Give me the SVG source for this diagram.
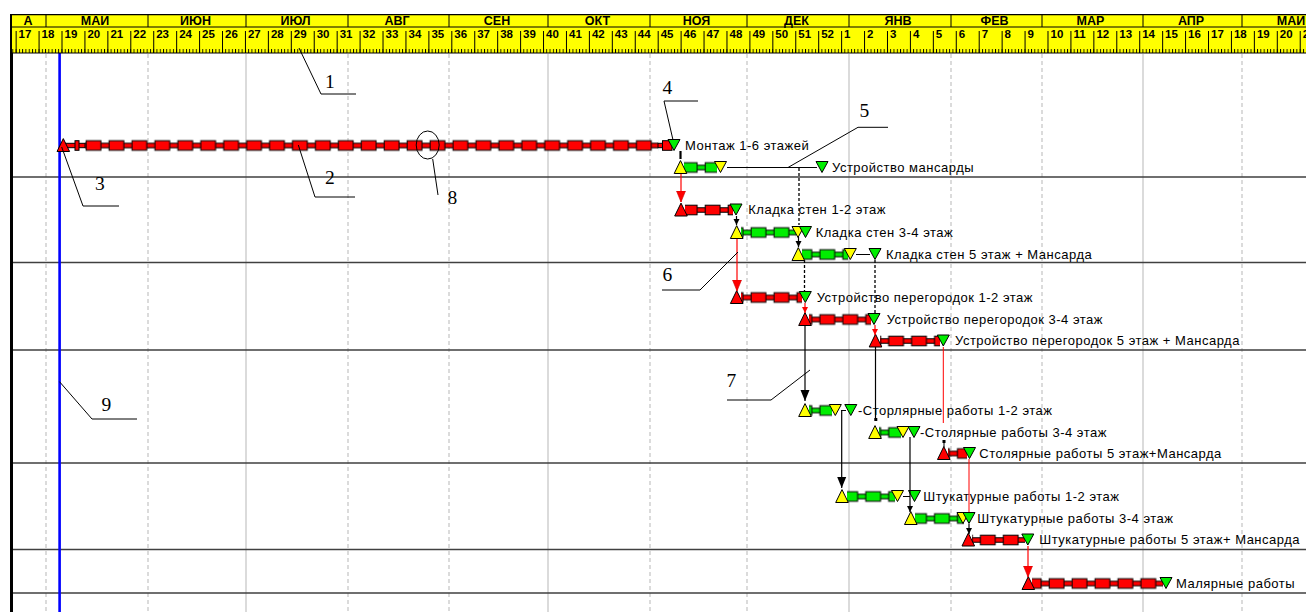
<svg xmlns="http://www.w3.org/2000/svg" width="1306" height="612" viewBox="0 0 1306 612">
<style>
.lbl{font-family:"Liberation Sans",Arial,sans-serif;font-size:13px;letter-spacing:0.5px;fill:#000}
.mon{font-family:"Liberation Sans",Arial,sans-serif;font-weight:bold;font-size:12.5px;text-anchor:middle;fill:#000}
.wk{font-family:"Liberation Sans",Arial,sans-serif;font-weight:bold;font-size:11.5px;fill:#000}
.num{font-family:"Liberation Serif","Times New Roman",serif;font-size:19.5px;fill:#000}
.r{fill:#ff0000;stroke:#000;stroke-width:1}
.g{fill:#00ee00;stroke:#000;stroke-width:1}
.y{fill:#ffff00;stroke:#000;stroke-width:1}
.ld{fill:none;stroke:#000;stroke-width:1}
.cr{fill:none;stroke:#ff0000;stroke-width:1.2}
.cb{fill:none;stroke:#000;stroke-width:1.2}
.cd{fill:none;stroke:#000;stroke-width:1.3;stroke-dasharray:3 2}
.fl{fill:none;stroke:#000;stroke-width:1}
.gm{fill:none;stroke:#c4c4c4;stroke-width:1.2;stroke-dasharray:4 3}
.gq{fill:none;stroke:#c8c8c8;stroke-width:1.3}
.rowl{fill:none;stroke:#404040;stroke-width:1.4}
</style>
<defs>
<pattern id="pr" patternUnits="userSpaceOnUse" x="16.14" y="-7" width="22.93" height="14">
<rect x="0" y="4.8" width="22.93" height="4.4" fill="#ff0000"/>
<path d="M0,4.8H22.93M0,9.2H22.93" stroke="#000" stroke-width="1"/>
<rect x="1.2" y="2.2" width="14.8" height="9.6" fill="#ff0000" stroke="#000" stroke-width="1"/>
</pattern>
<pattern id="pg" patternUnits="userSpaceOnUse" x="16.14" y="-7" width="22.93" height="14">
<rect x="0" y="4.8" width="22.93" height="4.4" fill="#00ee00"/>
<path d="M0,4.8H22.93M0,9.2H22.93" stroke="#000" stroke-width="1"/>
<rect x="1.2" y="2.2" width="14.8" height="9.6" fill="#00ee00" stroke="#000" stroke-width="1"/>
</pattern>
<pattern id="wt" patternUnits="userSpaceOnUse" x="15.64" y="31" width="22.93" height="22">
<rect x="0" y="0" width="1" height="22" fill="#000"/>
</pattern>
<pattern id="dt" patternUnits="userSpaceOnUse" x="15.64" y="49" width="3.2757" height="4">
<rect x="0" y="0" width="0.9" height="4" fill="#000"/>
</pattern>
<path id="up" d="M0,-6.9L6.3,6L-6.3,6Z"/>
<path id="dn" d="M-6,-6L6,-6L0,5Z"/>
<marker id="aR" markerUnits="userSpaceOnUse" markerWidth="10" markerHeight="12" viewBox="-5 -11.5 10 12" refX="0" refY="0"><path d="M-4.5,-11L4.5,-11L0,0Z" fill="#ff0000" stroke="#cc0000" stroke-width="0.6"/></marker>
<marker id="aB" markerUnits="userSpaceOnUse" markerWidth="10" markerHeight="12" viewBox="-5 -11.5 10 12" refX="0" refY="0"><path d="M-4.5,-11L4.5,-11L0,0Z" fill="#000"/></marker>
<marker id="aBs" markerUnits="userSpaceOnUse" markerWidth="8" markerHeight="8" viewBox="-4 -7 8 8" refX="0" refY="0"><path d="M-3,-6L3,-6L0,0Z" fill="#000"/></marker>
<marker id="aRs" markerUnits="userSpaceOnUse" markerWidth="8" markerHeight="8" viewBox="-4 -7 8 8" refX="0" refY="0"><path d="M-3,-6L3,-6L0,0Z" fill="#ff0000"/></marker>
</defs>

<rect x="0" y="0" width="1306" height="612" fill="#fff"/>

<g id="grid">
<path class="gm" d="M46,54V612M148,54V612M348,54V612M449,54V612M650,54V612M747,54V612M951,54V612M1042,54V612M1242,54V612"/>
<path class="gq" d="M246,54V612M548,54V612M849,54V612M1143,54V612"/>
<path class="rowl" d="M13,177H1306M13,262.5H1306M13,350H1306M13,463H1306M13,549.5H1306M13,593H1306"/>
<rect x="58.3" y="53" width="2.6" height="559" fill="#0000ff"/>
<rect x="10" y="14" width="3" height="598" fill="#000"/>
</g>

<g id="timescale">
<rect x="12" y="14" width="1294" height="39" fill="#ffff00"/>
<rect x="12" y="31" width="1294" height="22" fill="url(#wt)"/>
<rect x="12" y="49" width="1294" height="4" fill="url(#dt)"/>
<path d="M12,14.6H1306M12,27H1306M12,53H1306" stroke="#000" stroke-width="1.2" fill="none"/>
<path d="M46,14V27M148,14V27M246,14V27M348,14V27M449,14V27M548,14V27M650,14V27M747,14V27M849,14V27M951,14V27M1042,14V27M1143,14V27M1242,14V27" stroke="#000" stroke-width="1" fill="none"/>
<text class="mon" x="28" y="25">А</text>
<text class="mon" x="95" y="25">МАИ</text>
<text class="mon" x="195.5" y="25">ИЮН</text>
<text class="mon" x="295.5" y="25">ИЮЛ</text>
<text class="mon" x="397" y="25">АВГ</text>
<text class="mon" x="497" y="25">СЕН</text>
<text class="mon" x="597.5" y="25">ОКТ</text>
<text class="mon" x="696.5" y="25">НОЯ</text>
<text class="mon" x="796.5" y="25">ДЕК</text>
<text class="mon" x="898" y="25">ЯНВ</text>
<text class="mon" x="994.5" y="25">ФЕВ</text>
<text class="mon" x="1090.5" y="25">МАР</text>
<text class="mon" x="1191" y="25">АПР</text>
<text class="mon" x="1291" y="25">МАИ</text>
<text class="wk" x="18.6" y="38">17</text>
<text class="wk" x="41.6" y="38">18</text>
<text class="wk" x="64.5" y="38">19</text>
<text class="wk" x="87.4" y="38">20</text>
<text class="wk" x="110.4" y="38">21</text>
<text class="wk" x="133.3" y="38">22</text>
<text class="wk" x="156.2" y="38">23</text>
<text class="wk" x="179.2" y="38">24</text>
<text class="wk" x="202.1" y="38">25</text>
<text class="wk" x="225" y="38">26</text>
<text class="wk" x="247.9" y="38">27</text>
<text class="wk" x="270.9" y="38">28</text>
<text class="wk" x="293.8" y="38">29</text>
<text class="wk" x="316.7" y="38">30</text>
<text class="wk" x="339.7" y="38">31</text>
<text class="wk" x="362.6" y="38">32</text>
<text class="wk" x="385.5" y="38">33</text>
<text class="wk" x="408.5" y="38">34</text>
<text class="wk" x="431.4" y="38">35</text>
<text class="wk" x="454.3" y="38">36</text>
<text class="wk" x="477.2" y="38">37</text>
<text class="wk" x="500.2" y="38">38</text>
<text class="wk" x="523.1" y="38">39</text>
<text class="wk" x="546" y="38">40</text>
<text class="wk" x="569" y="38">41</text>
<text class="wk" x="591.9" y="38">42</text>
<text class="wk" x="614.8" y="38">43</text>
<text class="wk" x="637.8" y="38">44</text>
<text class="wk" x="660.7" y="38">45</text>
<text class="wk" x="683.6" y="38">46</text>
<text class="wk" x="706.5" y="38">47</text>
<text class="wk" x="729.5" y="38">48</text>
<text class="wk" x="752.4" y="38">49</text>
<text class="wk" x="775.3" y="38">50</text>
<text class="wk" x="798.3" y="38">51</text>
<text class="wk" x="821.2" y="38">52</text>
<text class="wk" x="844.1" y="38">1</text>
<text class="wk" x="867.1" y="38">2</text>
<text class="wk" x="890" y="38">3</text>
<text class="wk" x="912.9" y="38">4</text>
<text class="wk" x="935.8" y="38">5</text>
<text class="wk" x="958.8" y="38">6</text>
<text class="wk" x="981.7" y="38">7</text>
<text class="wk" x="1004.6" y="38">8</text>
<text class="wk" x="1027.6" y="38">9</text>
<text class="wk" x="1050.5" y="38">10</text>
<text class="wk" x="1073.4" y="38">11</text>
<text class="wk" x="1096.4" y="38">12</text>
<text class="wk" x="1119.3" y="38">13</text>
<text class="wk" x="1142.2" y="38">14</text>
<text class="wk" x="1165.1" y="38">15</text>
<text class="wk" x="1188.1" y="38">16</text>
<text class="wk" x="1211" y="38">17</text>
<text class="wk" x="1233.9" y="38">18</text>
<text class="wk" x="1256.9" y="38">19</text>
<text class="wk" x="1279.8" y="38">20</text>
<text class="wk" x="1302.7" y="38">21</text>
</g>

<g id="tasks">
<g id="t1" transform="translate(0,145.5)">
<rect x="84.93" y="-7" width="573.25" height="14" fill="url(#pr)"/>
<rect class="r" x="63" y="-2.2" width="22" height="4.4"/>
<rect class="r" x="75" y="-4.8" width="4" height="9.6"/>
<rect class="r" x="658" y="-2.2" width="12" height="4.4"/>
<rect class="r" x="662.5" y="-4.8" width="9.5" height="9.6"/>
<use href="#up" class="r" x="63.3" y="0"/>
<use href="#dn" class="g" x="674" y="0"/>
<text class="lbl" x="685" y="4">Монтаж 1-6 этажей</text>
</g>
<g id="t2" transform="translate(0,167.5)">
<rect x="684" y="-7" width="33" height="14" fill="url(#pg)"/>
<path class="fl" d="M727,0H817"/>
<use href="#up" class="y" x="680.5" y="0"/>
<use href="#dn" class="y" x="720.5" y="0"/>
<use href="#dn" class="g" x="822" y="0"/>
<text class="lbl" x="832" y="4">Устройство мансарды</text>
</g>
<g id="t3" transform="translate(0,210)">
<rect x="685" y="-7" width="48" height="14" fill="url(#pr)"/>
<use href="#up" class="r" x="681" y="0"/>
<use href="#dn" class="g" x="736" y="0"/>
<text class="lbl" x="748.3" y="4">Кладка стен 1-2 этаж</text>
</g>
<g id="t4" transform="translate(0,232.5)">
<rect x="741" y="-7" width="55" height="14" fill="url(#pg)"/>
<use href="#up" class="y" x="736.7" y="0"/>
<use href="#dn" class="y" x="798" y="0"/>
<use href="#dn" class="g" x="805.5" y="0"/>
<text class="lbl" x="815.7" y="4">Кладка стен 3-4 этаж</text>
</g>
<g id="t5" transform="translate(0,254.5)">
<rect x="802" y="-7" width="46" height="14" fill="url(#pg)"/>
<path class="fl" d="M856,0H870"/>
<use href="#up" class="y" x="798.3" y="0"/>
<use href="#dn" class="y" x="850.3" y="0"/>
<use href="#dn" class="g" x="875" y="0"/>
<text class="lbl" x="886" y="4">Кладка стен 5 этаж + Мансарда</text>
</g>
<g id="t6" transform="translate(0,297.5)">
<rect x="741" y="-7" width="61" height="14" fill="url(#pr)"/>
<use href="#up" class="r" x="736.7" y="0"/>
<use href="#dn" class="g" x="805.3" y="0"/>
<text class="lbl" x="816.7" y="4">Устройство перегородок 1-2 этаж</text>
</g>
<g id="t7" transform="translate(0,319.5)">
<rect x="809" y="-7" width="62" height="14" fill="url(#pr)"/>
<use href="#up" class="r" x="805" y="0"/>
<use href="#dn" class="g" x="874" y="0"/>
<text class="lbl" x="886.7" y="4">Устройство перегородок 3-4 этаж</text>
</g>
<g id="t8" transform="translate(0,341)">
<rect x="880" y="-7" width="60" height="14" fill="url(#pr)"/>
<use href="#up" class="r" x="875.5" y="0"/>
<use href="#dn" class="g" x="943.3" y="0"/>
<text class="lbl" x="955" y="4">Устройство перегородок 5 этаж + Мансарда</text>
</g>
<g id="t9" transform="translate(0,410.5)">
<rect x="809" y="-7" width="23" height="14" fill="url(#pg)"/>
<path class="fl" d="M841,0H846"/>
<use href="#up" class="y" x="805" y="0"/>
<use href="#dn" class="y" x="835.3" y="0"/>
<use href="#dn" class="g" x="850.8" y="0"/>
<text class="lbl" x="858" y="4">-Сторлярные работы 1-2 этаж</text>
</g>
<g id="t10" transform="translate(0,432.5)">
<rect x="879" y="-7" width="22" height="14" fill="url(#pg)"/>
<use href="#up" class="y" x="875" y="0"/>
<use href="#dn" class="y" x="903" y="0"/>
<use href="#dn" class="g" x="914" y="0"/>
<text class="lbl" x="920" y="4">-Столярные работы 3-4 этаж</text>
</g>
<g id="t11" transform="translate(0,453.5)">
<rect x="948" y="-7" width="19" height="14" fill="url(#pr)"/>
<use href="#up" class="r" x="943.8" y="0"/>
<use href="#dn" class="g" x="969.5" y="0"/>
<text class="lbl" x="979.3" y="4">Столярные работы 5 этаж+Мансарда</text>
</g>
<g id="t12" transform="translate(0,496.5)">
<rect x="847" y="-7" width="48" height="14" fill="url(#pg)"/>
<path class="fl" d="M903,0H910"/>
<use href="#up" class="y" x="842" y="0"/>
<use href="#dn" class="y" x="897.5" y="0"/>
<use href="#dn" class="g" x="914.5" y="0"/>
<text class="lbl" x="923.3" y="4">Штукатурные работы 1-2 этаж</text>
</g>
<g id="t13" transform="translate(0,518.5)">
<rect x="915" y="-7" width="49" height="14" fill="url(#pg)"/>
<use href="#up" class="y" x="910.8" y="0"/>
<use href="#dn" class="y" x="963" y="0"/>
<use href="#dn" class="g" x="969" y="0"/>
<text class="lbl" x="977.3" y="4">Штукатурные работы 3-4 этаж</text>
</g>
<g id="t14" transform="translate(0,540)">
<rect x="972" y="-7" width="53" height="14" fill="url(#pr)"/>
<use href="#up" class="r" x="968.3" y="0"/>
<use href="#dn" class="g" x="1027.8" y="0"/>
<text class="lbl" x="1039.3" y="4">Штукатурные работы 5 этаж+ Мансарда</text>
</g>
<g id="t15" transform="translate(0,583.5)">
<rect x="1032" y="-7" width="131" height="14" fill="url(#pr)"/>
<use href="#up" class="r" x="1028.3" y="0"/>
<use href="#dn" class="g" x="1166" y="0"/>
<text class="lbl" x="1176" y="4">Малярные работы</text>
</g>
</g>

<g id="connectors">
<path d="M680.5,151V159" stroke="#000" stroke-width="2.2" fill="none"/>
<path class="cr" d="M681,174V202" marker-end="url(#aR)"/>
<path class="cd" d="M799,168V225"/>
<path class="cb" d="M798.5,237V247" marker-end="url(#aBs)"/>
<path class="cb" d="M736.5,216V225" marker-end="url(#aBs)"/>
<path class="cr" d="M737,239V291" marker-end="url(#aR)"/>
<path class="cd" d="M804.5,260V291"/>
<path class="cd" d="M875,260V313"/>
<path class="cr" d="M805,303V313" marker-end="url(#aRs)"/>
<path class="cr" d="M875,325V335" marker-end="url(#aRs)"/>
<path class="cb" d="M805,326V401" marker-end="url(#aB)"/>
<path class="cb" d="M875.5,347V420"/>
<rect x="874.3" y="418" width="3" height="3" fill="#000"/>
<path d="M943.3,347V423" stroke="#ff0000" stroke-width="1" fill="none"/>
<rect x="942.5" y="440" width="3" height="3" fill="#000"/>
<path d="M944,442V447" stroke="#000" stroke-width="1" fill="none"/>
<path class="cb" d="M841.7,411V488" marker-end="url(#aB)"/>
<path class="cb" d="M910,437V512" marker-end="url(#aBs)"/>
<path d="M969,459V512" stroke="#ff0000" stroke-width="1" fill="none"/>
<path class="cb" d="M969,524V534" marker-end="url(#aBs)"/>
<path class="cr" d="M1028,546V577" marker-end="url(#aR)"/>
</g>

<g id="callouts">
<path class="ld" d="M299,48L321,94H356"/>
<text class="num" x="325" y="88">1</text>
<path class="ld" d="M298.3,145L315,197H355"/>
<text class="num" x="325" y="184">2</text>
<path class="ld" d="M61.7,147L83,206H119"/>
<text class="num" x="95" y="190">3</text>
<path class="ld" d="M664,101H698M664,101L673,140"/>
<text class="num" x="662.5" y="94">4</text>
<path class="ld" d="M888,127.3H858L788,167.5"/>
<text class="num" x="859.5" y="117">5</text>
<path class="ld" d="M662,290H700L738,252"/>
<text class="num" x="662.5" y="281">6</text>
<path class="ld" d="M727,400H771L810,370"/>
<text class="num" x="726.5" y="387">7</text>
<ellipse class="ld" cx="427.7" cy="145" rx="11.5" ry="14"/>
<path class="ld" d="M432.7,159L438,195"/>
<text class="num" x="447.5" y="204">8</text>
<path class="ld" d="M137,419H92L59.5,381.7"/>
<text class="num" x="101.5" y="411">9</text>
</g>
</svg>
